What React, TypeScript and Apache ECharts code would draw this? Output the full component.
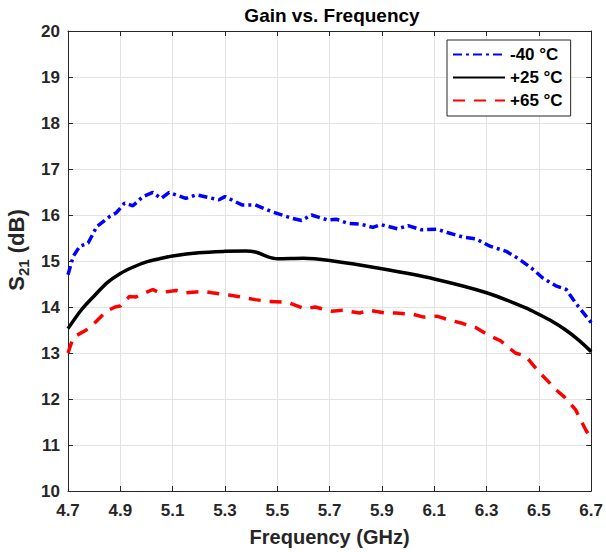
import React, { useEffect, useRef } from "react";
import * as echarts from "echarts";

// Frequency (GHz) and gain S21 (dB)
const freqCold = [4.70, 4.72, 4.745, 4.777, 4.81, 4.86, 4.885, 4.916, 4.948, 4.986, 5.024, 5.056, 5.087, 5.15, 5.19, 5.277, 5.30, 5.365, 5.416, 5.48, 5.555, 5.593, 5.631, 5.694, 5.725, 5.77, 5.82, 5.865, 5.896, 5.96, 6.0, 6.05, 6.11, 6.15, 6.21, 6.26, 6.31, 6.375, 6.425, 6.475, 6.515, 6.565, 6.605, 6.64, 6.70];
const gainCold = [14.70, 15.10, 15.32, 15.39, 15.75, 15.97, 16.05, 16.26, 16.20, 16.40, 16.49, 16.36, 16.49, 16.36, 16.44, 16.33, 16.40, 16.22, 16.22, 16.07, 15.93, 15.88, 16.00, 15.89, 15.91, 15.82, 15.80, 15.73, 15.79, 15.70, 15.77, 15.68, 15.69, 15.62, 15.52, 15.48, 15.33, 15.21, 15.04, 14.83, 14.63, 14.46, 14.38, 14.09, 13.66];

const freqRoom = [4.70, 4.75, 4.80, 4.85, 4.90, 4.95, 5.00, 5.05, 5.10, 5.20, 5.30, 5.38, 5.42, 5.46, 5.50, 5.60, 5.70, 5.90, 6.10, 6.30, 6.45, 6.50, 6.55, 6.60, 6.65, 6.70];
const gainRoom = [13.53, 13.93, 14.24, 14.53, 14.73, 14.87, 14.98, 15.05, 15.11, 15.18, 15.21, 15.22, 15.19, 15.10, 15.05, 15.06, 15.01, 14.83, 14.61, 14.31, 13.98, 13.84, 13.69, 13.51, 13.29, 13.03];

const freqHot = [4.70, 4.72, 4.77, 4.796, 4.847, 4.88, 4.90, 4.935, 4.96, 5.024, 5.05, 5.113, 5.15, 5.214, 5.25, 5.315, 5.35, 5.416, 5.467, 5.54, 5.606, 5.644, 5.707, 5.75, 5.815, 5.852, 5.915, 5.954, 6.02, 6.06, 6.11, 6.15, 6.21, 6.26, 6.30, 6.355, 6.41, 6.45, 6.50, 6.57, 6.60, 6.64, 6.68, 6.70];
const gainHot = [13.00, 13.34, 13.50, 13.62, 13.91, 14.00, 14.02, 14.23, 14.22, 14.38, 14.31, 14.36, 14.31, 14.34, 14.31, 14.26, 14.23, 14.16, 14.12, 14.10, 13.96, 14.00, 13.91, 13.93, 13.87, 13.93, 13.87, 13.87, 13.84, 13.78, 13.80, 13.73, 13.64, 13.55, 13.41, 13.26, 13.00, 12.93, 12.59, 12.18, 12.03, 11.77, 11.32, 11.14];

const seriesNames = ["-40 \u00B0C", "+25 \u00B0C", "+65 \u00B0C"];
const F_MIN = 4.7;
const F_MAX = 6.7;
const F_STEP = 0.2;
const G_MIN = 10;
const G_MAX = 20;

const FONT = "'Liberation Sans', Arial, Helvetica, sans-serif";
const AX = "#262626";
const GRID = "#e3e3e3";

const toData = (f: number[], g: number[]) => f.map((x, i) => [x - F_MIN, g[i]]);

export default function App() {
  const ref = useRef<HTMLDivElement>(null);
  useEffect(() => {
    if (!ref.current) return;
    const chart = echarts.init(ref.current, undefined, { renderer: "svg" });
    const axisCommon = {
      type: "value" as const,
      axisLine: { show: true, onZero: false, lineStyle: { color: AX, width: 1 } },
      axisTick: { show: true, inside: true, length: 5, lineStyle: { color: AX, width: 1 } },
    };
    chart.setOption({
      animation: false,
      backgroundColor: "#ffffff",
      grid: { left: 68, right: 10, top: 31, bottom: 60, containLabel: false },
      xAxis: [
        {
          ...axisCommon,
          position: "bottom",
          min: 0,
          max: F_MAX - F_MIN,
          interval: F_STEP,
          axisLabel: {
            formatter: (v: number) => (v + F_MIN).toFixed(1),
            fontSize: 17,
            fontWeight: "bold",
            fontFamily: FONT,
            color: AX,
            margin: 11,
          },
          splitLine: { show: true, lineStyle: { color: GRID, width: 1 } },
          name: "Frequency (GHz)",
          nameLocation: "middle",
          nameGap: 36,
          nameTextStyle: { fontSize: 20, fontWeight: "bold", fontFamily: FONT, color: AX },
        },
        {
          ...axisCommon,
          position: "top",
          min: 0,
          max: F_MAX - F_MIN,
          interval: F_STEP,
          axisLabel: { show: false },
          splitLine: { show: false },
        },
      ],
      yAxis: [
        {
          ...axisCommon,
          position: "left",
          min: G_MIN,
          max: G_MAX,
          interval: 1,
          axisLabel: { fontSize: 17, fontWeight: "bold", fontFamily: FONT, color: AX, margin: 8 },
          splitLine: { show: true, lineStyle: { color: GRID, width: 1 } },
        },
        {
          ...axisCommon,
          position: "right",
          min: G_MIN,
          max: G_MAX,
          interval: 1,
          axisLabel: { show: false },
          splitLine: { show: false },
        },
      ],
      legend: {
        orient: "vertical",
        left: 447,
        top: 40,
        padding: [6, 8, 7, 5],
        itemWidth: 52,
        itemHeight: 17,
        itemGap: 6,
        borderColor: AX,
        borderWidth: 1,
        backgroundColor: "#ffffff",
        borderRadius: 0,
        itemStyle: { opacity: 0 },
        textStyle: { fontSize: 17, fontWeight: "bold", fontFamily: FONT, color: "#000" },
        data: seriesNames,
      },
      graphic: [
        {
          type: "text",
          x: 332,
          y: 15,
          style: {
            text: "Gain vs. Frequency",
            font: `bold 19px ${FONT}`,
            fill: "#000",
            align: "center",
            verticalAlign: "middle",
          },
        },
        {
          type: "text",
          x: 16,
          y: 250,
          rotation: Math.PI / 2,
          style: {
            text: "{m|S}{s|21}{m| (dB)}",
            align: "center",
            verticalAlign: "middle",
            fill: AX,
            rich: {
              m: { font: `bold 22px ${FONT}`, fill: AX, lineHeight: 30, verticalAlign: "middle" },
              s: { font: `bold 15px ${FONT}`, fill: AX, lineHeight: 8, verticalAlign: "bottom" },
            },
          },
        },
      ],
      series: [
        {
          name: seriesNames[0],
          type: "line",
          data: toData(freqCold, gainCold),
          symbol: "none",
          lineStyle: { color: "#0000ff", width: 3.5, type: [9, 4, 3, 4], cap: "butt" },
          itemStyle: { color: "#0000ff" },
          z: 3,
        },
        {
          name: seriesNames[1],
          type: "line",
          data: toData(freqRoom, gainRoom),
          symbol: "none",
          smooth: 0.3,
          lineStyle: { color: "#000000", width: 3.5, type: "solid" },
          itemStyle: { color: "#000000" },
          z: 3,
        },
        {
          name: seriesNames[2],
          type: "line",
          data: toData(freqHot, gainHot),
          symbol: "none",
          lineStyle: { color: "#ff0000", width: 3.5, type: [12, 9], cap: "butt" },
          itemStyle: { color: "#ff0000" },
          z: 3,
        },
      ],
    });
    return () => chart.dispose();
  }, []);
  return (
    <div
      ref={ref}
      style={{ position: "absolute", left: 0, top: 0, width: 606, height: 552, background: "#fff" }}
    />
  );
}
